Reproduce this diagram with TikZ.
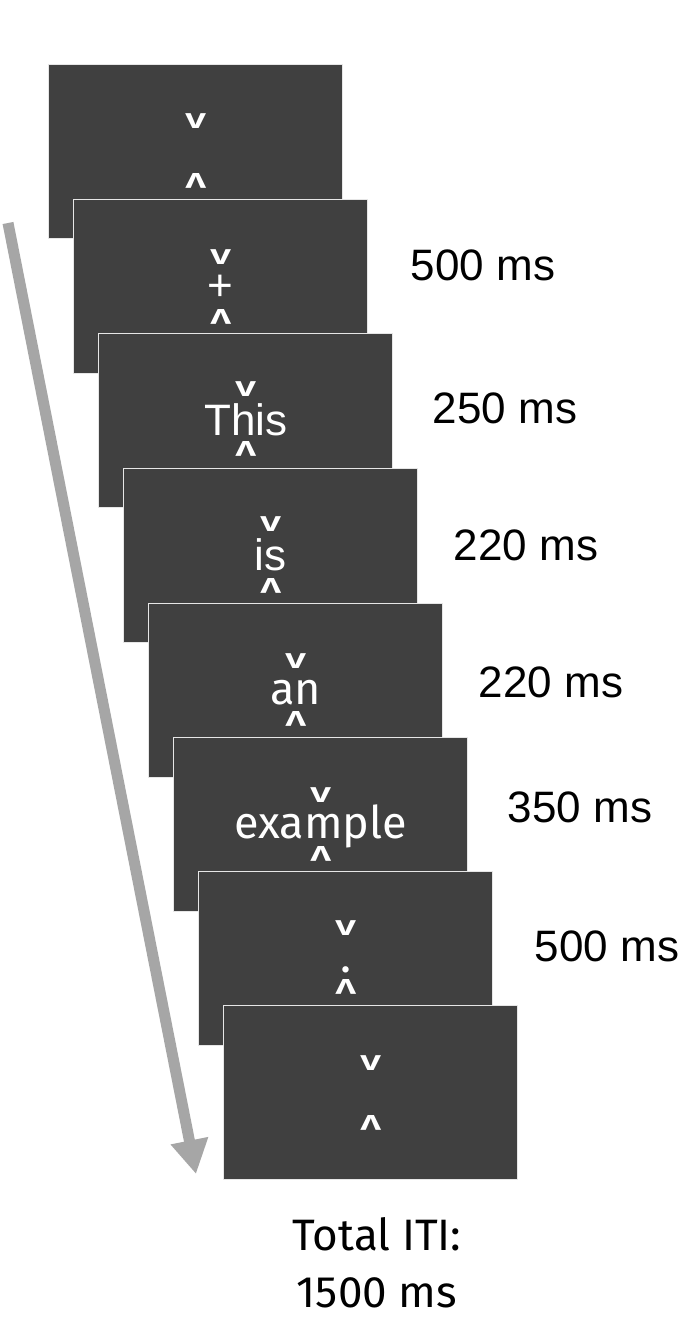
\documentclass[tikz,border=0pt]{standalone}
\usepackage{fontspec}
\setmainfont{Liberation Sans}
\newfontfamily\fira{Fira Sans}
\usetikzlibrary{arrows.meta}
\definecolor{scr}{HTML}{404040}
\definecolor{arr}{HTML}{A6A6A6}
\definecolor{edge}{HTML}{E6E6E6}
\newcommand{\chevdown}{\scalebox{1}[0.74]{\fontsize{38}{38}\selectfont\bfseries v}}
\newcommand{\chevup}{\rotatebox{180}{\chevdown}}
\begin{document}
\begin{tikzpicture}[x=1pt,y=-1pt,
  screen/.style={fill=scr,draw=edge,line width=1.4pt,minimum width=294pt,minimum height=174pt,anchor=north west,inner sep=0pt},
  chev/.style={text=white,inner sep=0pt},
  word/.style={text=white,inner sep=0pt,anchor=base,font=\fontsize{44}{44}\selectfont},
  fword/.style={text=white,inner sep=0pt,anchor=base,font=\fira\fontsize{45}{45}\selectfont},
  dur/.style={text=black,inner sep=0pt,font=\fontsize{44}{44}\selectfont},
  total/.style={text=black,inner sep=0pt,align=center,font=\fira\fontsize{44}{57}\selectfont}]
\useasboundingbox (0,0) rectangle (684,1318);
\fill[white] (0,0) rectangle (684,1318);
% arrow
\coordinate (astart) at (8,223);
\coordinate (aend) at (196,1174);
\draw[arr,line width=11pt,-{Triangle[width=36pt,length=34pt]}] (astart) -- (aend);
% screens
\node[screen] (s1) at (48,64) {};
\node[chev] (s1v) at ([yshift=31pt]s1.center) {\chevdown};
\node[chev] (s1a) at ([yshift=-29pt]s1.center) {\chevup};
\node[screen] (s2) at (73,199) {};
\node[chev] (s2v) at ([yshift=30pt]s2.center) {\chevdown};
\node[chev,font=\fontsize{44}{44}\selectfont] (s2p) at ([yshift=-1pt]s2.center) {+};
\node[chev] (s2a) at ([yshift=-30pt]s2.center) {\chevup};
\node[screen] (s3) at (98,333) {};
\node[word] (s3w) at ([yshift=-15pt]s3.center) {This};
\node[chev] (s3v) at ([yshift=32pt]s3.center) {\chevdown};
\node[chev] (s3a) at ([yshift=-28pt]s3.center) {\chevup};
\node[screen] (s4) at (123,468) {};
\node[word] (s4w) at ([yshift=-15pt]s4.center) {is};
\node[chev] (s4v) at ([yshift=32pt]s4.center) {\chevdown};
\node[chev] (s4a) at ([yshift=-30pt]s4.center) {\chevup};
\node[screen] (s5) at (148,603) {};
\node[fword] (s5w) at ([yshift=-14pt]s5.center) {an};
\node[chev] (s5v) at ([yshift=30pt]s5.center) {\chevdown};
\node[chev] (s5a) at ([yshift=-28pt]s5.center) {\chevup};
\node[screen] (s6) at (173,737) {};
\node[fword] (s6w) at ([yshift=-14pt]s6.center) {example};
\node[chev] (s6v) at ([yshift=30pt]s6.center) {\chevdown};
\node[chev] (s6a) at ([yshift=-29pt]s6.center) {\chevup};
\node[screen] (s7) at (198,871) {};
\node[chev] (s7v) at ([yshift=31pt]s7.center) {\chevdown};
\node[chev,font=\fira\fontsize{46}{46}\selectfont] (s7d) at ([yshift=-11pt]s7.center) {.};
\node[chev] (s7a) at ([yshift=-28pt]s7.center) {\chevup};
\node[screen] (s8) at (223,1005) {};
\node[chev] (s8v) at ([yshift=30pt]s8.center) {\chevdown};
\node[chev] (s8a) at ([yshift=-30pt]s8.center) {\chevup};
% durations
\node[dur] (d1) at (483,265) {500 ms};
\node[dur] (d2) at (505,408) {250 ms};
\node[dur] (d3) at (526,545) {220 ms};
\node[dur] (d4) at (551,682) {220 ms};
\node[dur] (d5) at (580,807) {350 ms};
\node[dur] (d6) at (607,946) {500 ms};
\node[total] (tot) at (377,1263) {Total ITI:\\1500 ms};
\end{tikzpicture}
\end{document}
